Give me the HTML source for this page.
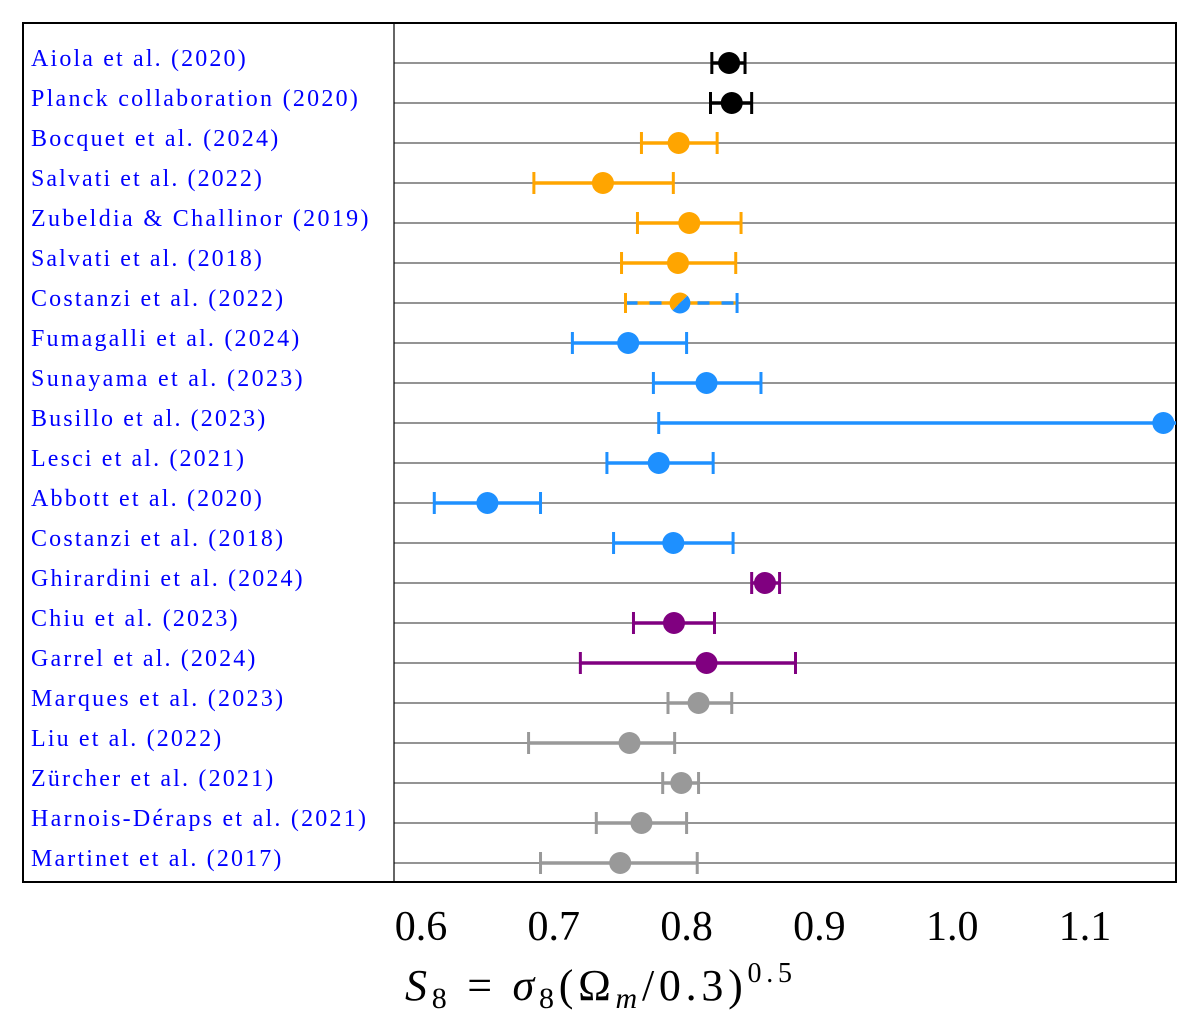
<!DOCTYPE html>
<html><head><meta charset="utf-8"><style>
html,body{margin:0;padding:0;background:#fff;}
svg{display:block;}
</style></head><body>
<svg id="chart" width="1200" height="1036" viewBox="0 0 1200 1036" xmlns="http://www.w3.org/2000/svg">
<defs>
<clipPath id="plotclip"><rect x="394" y="23" width="782" height="859"/></clipPath>
</defs>
<g id="rows"></g>
<rect x="23" y="23" width="1153" height="859" fill="none" stroke="#000" stroke-width="2"/>
<line x1="394" y1="23" x2="394" y2="882" stroke="#000" stroke-width="1.2"/>
<g id="marks" clip-path="url(#plotclip)"></g>
<g id="labels"></g>
<g id="ticks"></g>
<text id="xtitle" x="405" y="1000" font-family="Liberation Serif, serif" font-size="44" textLength="387" lengthAdjust="spacing"><tspan font-style="italic">S</tspan><tspan font-size="30" dy="8">8</tspan><tspan dy="-8"> = </tspan><tspan font-style="italic">σ</tspan><tspan font-size="30" dy="8">8</tspan><tspan dy="-8">(Ω</tspan><tspan font-size="30" font-style="italic" dy="8">m</tspan><tspan dy="-8">/0.3)</tspan><tspan font-size="28" dy="-18">0.5</tspan></text>
</svg>
<script>
const studies=["Aiola et al. (2020)","Planck collaboration (2020)","Bocquet et al. (2024)","Salvati et al. (2022)","Zubeldia & Challinor (2019)","Salvati et al. (2018)","Costanzi et al. (2022)","Fumagalli et al. (2024)","Sunayama et al. (2023)","Busillo et al. (2023)","Lesci et al. (2021)","Abbott et al. (2020)","Costanzi et al. (2018)","Ghirardini et al. (2024)","Chiu et al. (2023)","Garrel et al. (2024)","Marques et al. (2023)","Liu et al. (2022)","Zürcher et al. (2021)","Harnois-Déraps et al. (2021)","Martinet et al. (2017)"];
const s8Values=[0.832,0.834,0.794,0.737,0.802,0.7935,0.795,0.756,0.815,1.159,0.779,0.650,0.790,0.859,0.7905,0.815,0.809,0.757,0.796,0.766,0.750];
const lowerBounds=[0.819,0.818,0.766,0.685,0.763,0.751,0.754,0.714,0.775,0.779,0.740,0.610,0.745,0.849,0.760,0.720,0.786,0.681,0.782,0.732,0.690];
const upperBounds=[0.844,0.849,0.823,0.790,0.841,0.837,0.838,0.800,0.856,1.25,0.820,0.690,0.835,0.870,0.821,0.882,0.834,0.791,0.809,0.800,0.808];
const groups=["cmb","cmb","sz","sz","sz","sz","mixed","xray","xray","xray","xray","xray","xray","erosita","erosita","erosita","lens","lens","lens","lens","lens"];
const groupColors={cmb:"#000000",sz:"#ffa500",xray:"#1e90ff",erosita:"#800080",lens:"#999999"};
const tickValues=[0.6,0.7,0.8,0.9,1.0,1.1];
const tickLabels=["0.6","0.7","0.8","0.9","1.0","1.1"];
const NS="http://www.w3.org/2000/svg";
const xScale=v=>421+(v-0.6)*1328;
const yScale=i=>63+i*40;
function mk(tag,attrs,parent){const e=document.createElementNS(NS,tag);for(const k in attrs)e.setAttribute(k,attrs[k]);parent.appendChild(e);return e;}
const rows=document.getElementById('rows'),marks=document.getElementById('marks'),labels=document.getElementById('labels'),ticks=document.getElementById('ticks');
studies.forEach((s,i)=>{
  const y=yScale(i);
  const gl=mk('line',{x1:394,y1:y,x2:1176,y2:y,stroke:'#555','stroke-width':1.2},rows);
  
  
  const t=mk('text',{x:31,y:y+3,'font-family':'Liberation Serif, serif','font-size':24,fill:'#0000ff'},labels);
  t.textContent=s;
  
  
  try{const w=t.getComputedTextLength();t.setAttribute('textLength',(w*1.22).toFixed(1));t.setAttribute('lengthAdjust','spacing');}catch(e){}
  const g=mk('g',{},marks);
  
  
  const x0=xScale(lowerBounds[i]),x1=xScale(upperBounds[i]),xc=xScale(s8Values[i]);
  const grp=groups[i];
  if(grp==='mixed'){
    const o=groupColors.sz,b=groupColors.xray;
    mk('line',{x1:x0,y1:y,x2:x1,y2:y,stroke:o,'stroke-width':3.5},g);
    mk('line',{x1:x0,y1:y,x2:x1,y2:y,stroke:b,'stroke-width':3.5,'stroke-dasharray':'12 12'},g);
    mk('line',{x1:x0,y1:y-10,x2:x0,y2:y+10,stroke:o,'stroke-width':3},g);
    mk('line',{x1:x1,y1:y-10,x2:x1,y2:y+10,stroke:b,'stroke-width':3},g);
    const r=10.5,d=r*0.7071;
    mk('path',{d:`M${xc-d},${y+d} A${r},${r} 0 0 1 ${xc+d},${y-d} Z`,fill:o},g);
    mk('path',{d:`M${xc+d},${y-d} A${r},${r} 0 0 1 ${xc-d},${y+d} Z`,fill:b},g);
  } else {
    const c=groupColors[grp];
    mk('line',{x1:x0,y1:y,x2:x1,y2:y,stroke:c,'stroke-width':3.5},g);
    mk('line',{x1:x0,y1:y-11,x2:x0,y2:y+11,stroke:c,'stroke-width':3},g);
    mk('line',{x1:x1,y1:y-11,x2:x1,y2:y+11,stroke:c,'stroke-width':3},g);
    mk('circle',{cx:xc,cy:y,r:11,fill:c},g);
  }
});
tickValues.forEach((v,i)=>{
  const t=mk('text',{x:xScale(v),y:940,'text-anchor':'middle','font-family':'Liberation Serif, serif','font-size':42},ticks);
  t.textContent=tickLabels[i];
  
  
});
</script>
</body></html>
